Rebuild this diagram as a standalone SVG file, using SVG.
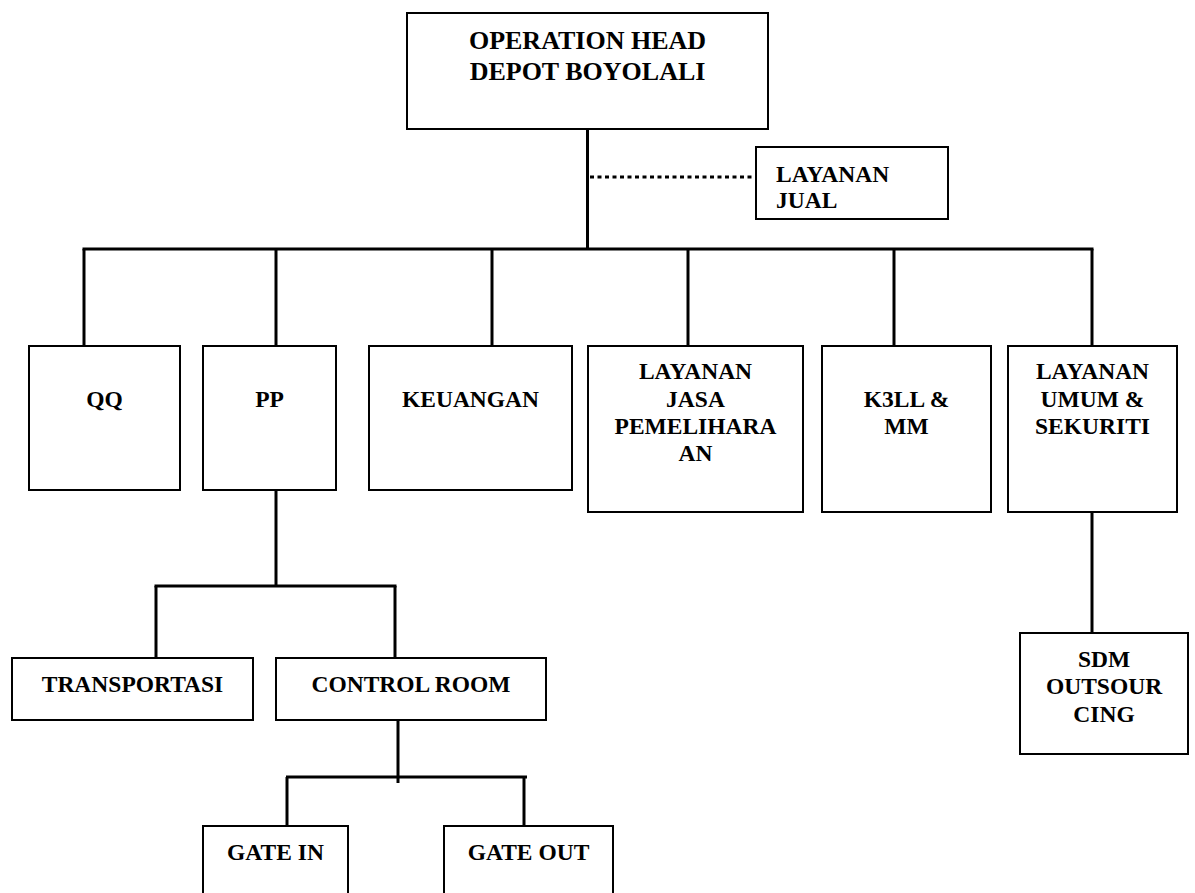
<svg xmlns="http://www.w3.org/2000/svg" width="1195" height="893" viewBox="0 0 1195 893">
<style>
.box{fill:#fff;stroke:#000;stroke-width:2}
.t{font-family:"Liberation Serif","Times New Roman",serif;font-weight:bold;font-size:23.5px;fill:#000}
.h{font-size:26px}
.c{text-anchor:middle}
.ln{stroke:#000;stroke-width:3;fill:none}
.dot{stroke:#000;stroke-width:3;fill:none;stroke-dasharray:4 3.5}
</style>
<rect width="1195" height="893" fill="#fff"/>
<g id="connectors">
<line class="ln" x1="587.5" y1="129" x2="587.5" y2="249"/>
<line class="dot" x1="590" y1="177" x2="753" y2="177"/>
<line class="ln" x1="82.5" y1="249" x2="1093.5" y2="249"/>
<line class="ln" x1="84" y1="249" x2="84" y2="346"/>
<line class="ln" x1="276" y1="249" x2="276" y2="346"/>
<line class="ln" x1="492" y1="249" x2="492" y2="346"/>
<line class="ln" x1="688" y1="249" x2="688" y2="346"/>
<line class="ln" x1="894" y1="249" x2="894" y2="346"/>
<line class="ln" x1="1092" y1="249" x2="1092" y2="346"/>
<line class="ln" x1="276" y1="490" x2="276" y2="586"/>
<line class="ln" x1="154.5" y1="586" x2="396.5" y2="586"/>
<line class="ln" x1="156" y1="586" x2="156" y2="658"/>
<line class="ln" x1="395" y1="586" x2="395" y2="658"/>
<line class="ln" x1="398" y1="720" x2="398" y2="783"/>
<line class="ln" x1="286" y1="777" x2="527" y2="777"/>
<line class="ln" x1="287" y1="777" x2="287" y2="826"/>
<line class="ln" x1="524" y1="777" x2="524" y2="826"/>
<line class="ln" x1="1092" y1="512" x2="1092" y2="633"/>
</g>
<g id="operation-head">
<rect class="box" x="407" y="13" width="361" height="116"/>
<text class="t h c" x="587.5" y="49">OPERATION HEAD</text>
<text class="t h c" x="587.5" y="80">DEPOT BOYOLALI</text>
</g>
<g id="layanan-jual">
<rect class="box" x="756" y="147" width="192" height="72"/>
<text class="t" x="776" y="182">LAYANAN</text>
<text class="t" x="776" y="208">JUAL</text>
</g>
<g id="qq">
<rect class="box" x="29" y="346" width="151" height="144"/>
<text class="t c" x="104.5" y="407">QQ</text>
</g>
<g id="pp">
<rect class="box" x="203" y="346" width="133" height="144"/>
<text class="t c" x="269.5" y="407">PP</text>
</g>
<g id="keuangan">
<rect class="box" x="369" y="346" width="203" height="144"/>
<text class="t c" x="470.5" y="407">KEUANGAN</text>
</g>
<g id="layanan-jasa">
<rect class="box" x="588" y="346" width="215" height="166"/>
<text class="t c" x="695.5" y="379">LAYANAN</text>
<text class="t c" x="695.5" y="407">JASA</text>
<text class="t c" x="695.5" y="434">PEMELIHARA</text>
<text class="t c" x="695.5" y="461">AN</text>
</g>
<g id="k3ll">
<rect class="box" x="822" y="346" width="169" height="166"/>
<text class="t c" x="906.5" y="407">K3LL &amp;</text>
<text class="t c" x="906.5" y="434">MM</text>
</g>
<g id="layanan-umum">
<rect class="box" x="1008" y="346" width="169" height="166"/>
<text class="t c" x="1092.5" y="379">LAYANAN</text>
<text class="t c" x="1092.5" y="407">UMUM &amp;</text>
<text class="t c" x="1092.5" y="434">SEKURITI</text>
</g>
<g id="transportasi">
<rect class="box" x="12" y="658" width="241" height="62"/>
<text class="t c" x="132.5" y="692">TRANSPORTASI</text>
</g>
<g id="control-room">
<rect class="box" x="276" y="658" width="270" height="62"/>
<text class="t c" x="411" y="692">CONTROL ROOM</text>
</g>
<g id="gate-in">
<rect class="box" x="203" y="826" width="145" height="70"/>
<text class="t c" x="275.5" y="860">GATE IN</text>
</g>
<g id="gate-out">
<rect class="box" x="444" y="826" width="169" height="70"/>
<text class="t c" x="528.5" y="860">GATE OUT</text>
</g>
<g id="sdm-outsourcing">
<rect class="box" x="1020" y="633" width="168" height="121"/>
<text class="t c" x="1104" y="667">SDM</text>
<text class="t c" x="1104" y="694">OUTSOUR</text>
<text class="t c" x="1104" y="722">CING</text>
</g>
</svg>
